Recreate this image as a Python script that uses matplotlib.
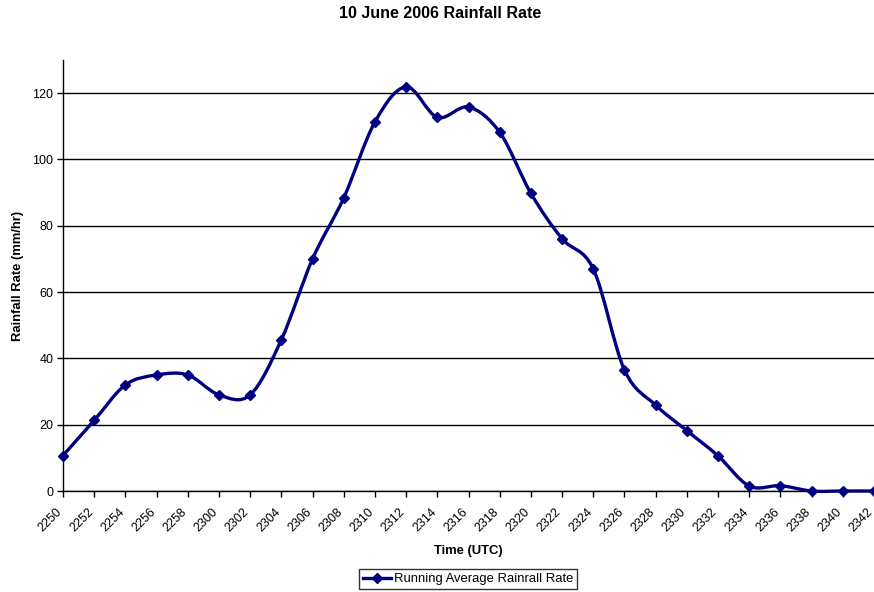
import numpy as np
import matplotlib
matplotlib.use('Agg')
import matplotlib.pyplot as plt
from matplotlib.path import Path
from matplotlib.patches import PathPatch
from matplotlib.lines import Line2D
from matplotlib.transforms import ScaledTranslation

#-----data-----#
times = ['2250', '2252', '2254', '2256', '2258', '2300', '2302', '2304', '2306',
         '2308', '2310', '2312', '2314', '2316', '2318', '2320', '2322', '2324',
         '2326', '2328', '2330', '2332', '2334', '2336', '2338', '2340', '2342']
rain_rate = [10.7, 21.3, 32.0, 35.0, 35.0, 29.0, 29.0, 45.6, 70.0,
             88.4, 111.3, 121.9, 112.7, 115.8, 108.2, 89.8, 76.1, 67.0,
             36.5, 25.9, 18.2, 10.6, 1.5, 1.6, 0.0, 0.0, 0.0]
y_ticks = [0, 20, 40, 60, 80, 100, 120]

NAVY = '#000080'

plt.rcParams['font.family'] = ['Liberation Sans', 'DejaVu Sans']
plt.rcParams['font.size'] = 9.4

fig = plt.figure(figsize=(8.74, 5.92), dpi=100)
# posizione dell'area del grafico in pixel -> frazioni
ax = fig.add_axes([63 / 874, 1 - 491 / 592, (874 - 63) / 874, (491 - 60) / 592])

x = np.arange(len(times))
y = np.array(rain_rate)

# linea smussata tipo excel: bezier cubiche tra i punti
pts = np.column_stack([x, y])
padded = np.vstack([pts[0], pts, pts[-1]])
verts = [tuple(pts[0])]
codes = [Path.MOVETO]
for i in range(len(pts) - 1):
    p0, p1, p2, p3 = padded[i], padded[i + 1], padded[i + 2], padded[i + 3]
    c1 = p1 + (p2 - p0) / 6
    c2 = p2 - (p3 - p1) / 6
    verts += [tuple(c1), tuple(c2), tuple(p2)]
    codes += [Path.CURVE4] * 3
curve = PathPatch(Path(verts, codes), facecolor='none', edgecolor=NAVY,
                  lw=2.4, zorder=3, clip_on=False, capstyle='round')
ax.add_patch(curve)
ax.plot(x, y, linestyle='none', marker='D', ms=5, color=NAVY, zorder=4, clip_on=False)

# assi
ax.set_xlim(0, len(times) - 1)
ax.set_ylim(0, 130)
ax.set_yticks(y_ticks)
ax.set_xticks(x)
ax.set_xticklabels(times, rotation=45, ha='right', va='top', rotation_mode='anchor')
ax.tick_params(axis='both', direction='out', length=4, width=1, colors='black', labelsize=9)
ax.tick_params(axis='x', pad=4)
ax.tick_params(axis='y', pad=3)
# sposto un po' le etichette ruotate
shift = ScaledTranslation(-7 / 100, -4 / 100, fig.dpi_scale_trans)
for lab in ax.get_xticklabels():
    lab.set_transform(lab.get_transform() + shift)
for s in ['top', 'right']:
    ax.spines[s].set_visible(False)
for s in ['left', 'bottom']:
    ax.spines[s].set_linewidth(1)
ax.yaxis.grid(True, color='black', lw=1)
ax.set_axisbelow(True)

ax.set_xlabel('Time (UTC)', fontweight='bold', labelpad=8)
ax.set_ylabel('Rainfall Rate (mm/hr)', fontweight='bold')
ax.yaxis.set_label_coords((24 - 63) / 811, 0.5)
fig.text(440 / 874, 1 - 14 / 592, '10 June 2006 Rainfall Rate', fontweight='bold',
         fontsize=11.5, ha='center', va='center')

handle = Line2D([], [], color=NAVY, lw=2.4, marker='D', ms=5)
leg = fig.legend([handle], ['Running Average Rainrall Rate'], loc='center',
                 bbox_to_anchor=(468 / 874, 1 - 579 / 592), frameon=True,
                 fancybox=False, edgecolor='black', handlelength=2.2,
                 handletextpad=0.2, borderpad=0.3, borderaxespad=0)
leg.get_frame().set_linewidth(1)

fig.savefig('out.png', dpi=100)
